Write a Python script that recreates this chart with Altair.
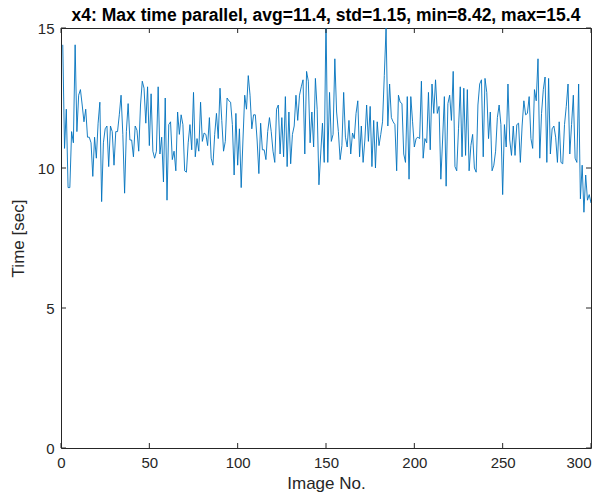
import altair as alt
import pandas as pd

# Time [sec] per image, in order of image number (1..300)
seg1 = [14.4, 10.7, 12.1, 9.3, 9.3, 11.3, 10.9, 14.4, 11.3, 12.6, 12.8, 12.25, 11.65, 12.1,
        11.1, 11.1, 10.9, 9.7, 11.1, 10.35, 11.6, 12.35, 8.8, 10.9]
seg2 = [11.4, 11.5, 10.05, 11.5, 11.3, 10.1, 11.3, 11.3, 11.9, 12.6, 11.2, 9.1, 11.3, 12.3,
        11.0, 11.0, 10.4, 11.5, 11.35, 10.6, 12.25, 13.1, 12.85, 11.6, 12.9, 10.8]
seg3 = [12.65, 10.6, 10.35, 10.6, 12.9, 10.5, 11.1, 9.5, 12.5, 8.85, 11.55, 11.65, 10.3,
        10.6, 9.9, 12.0, 11.2, 11.9, 11.55, 9.9, 9.85, 10.9, 11.55, 10.65, 12.7]
seg4 = [10.4, 11.05, 10.6, 12.35, 10.95, 11.25, 11.2, 10.8, 11.8, 10.35, 10.1, 11.2, 11.95,
        11.05, 12.85, 11.7, 10.6, 10.95, 12.5, 12.4, 12.35, 11.55, 9.75, 11.95, 10.1, 11.4]
seg5 = [9.3, 11.0, 12.6, 12.1, 13.3, 12.6, 11.4, 11.9, 11.9, 11.0, 9.8, 11.6, 10.65, 10.65,
        10.3, 11.3, 11.8, 11.3, 10.6, 10.2, 12.1, 12.25, 10.5, 11.8, 10.4]
seg6 = [12.55, 10.05, 12.0, 10.15, 11.2, 11.5, 12.6, 11.7, 12.6, 12.9, 13.15, 10.5, 13.45,
        13.1, 10.9, 12.0, 10.75, 13.2, 12.1, 9.4, 10.5, 11.6, 10.2, 15.4, 10.2, 12.7]
seg7 = [10.95, 11.2, 13.9, 12.0, 11.3, 10.3, 10.8, 12.7, 11.1, 10.75, 11.7, 10.5, 11.25,
        11.05, 11.95, 12.4, 10.4, 11.5, 10.2, 11.0, 12.25, 10.95, 12.2, 10.05, 11.7]
seg8 = [10.0, 11.65, 10.8, 11.2, 11.65, 13.3, 15.0, 11.5, 13.0, 11.8, 11.65, 11.55, 9.9,
        12.6, 12.35, 12.3, 10.5, 10.2, 12.55, 9.6, 12.55, 11.65, 10.75, 11.05, 11.1, 11.05]
seg9 = [13.1, 10.35, 11.05, 10.9, 12.7, 10.65, 13.0, 11.95, 13.15, 11.95, 12.2, 9.6, 11.0,
        12.55, 9.35, 12.3, 12.6, 11.7, 13.45, 10.05, 9.9, 11.4, 12.9, 10.4, 12.85]
seg10 = [10.45, 12.8, 9.9, 10.8, 11.2, 10.0, 9.85, 12.25, 13.0, 13.15, 10.4, 13.2, 12.7,
         11.05, 12.0, 9.9, 10.1, 10.6, 11.8, 12.25, 11.55, 9.05, 11.55, 10.75, 13.0, 11.0]
seg11 = [10.45, 11.5, 10.45, 11.55, 11.6, 10.2, 11.5, 12.4, 11.9, 11.95, 12.55, 11.05, 10.7,
         12.8, 12.4, 13.9, 10.35, 11.95, 12.8, 13.25, 10.2, 13.2, 10.5, 11.4, 11.5]
seg12 = [11.1, 10.2, 11.65, 10.2, 10.15, 11.55, 12.2, 13.0, 10.5, 11.55, 12.6, 10.35, 10.2,
         13.0, 8.9, 10.1, 8.42, 9.75, 8.85, 9.05, 8.75]

times = seg1 + seg2 + seg3 + seg4 + seg5 + seg6 + seg7 + seg8 + seg9 + seg10 + seg11 + seg12
images = list(range(1, len(times) + 1))

x_ticks = [0, 50, 100, 150, 200, 250, 300]
y_ticks = [0, 5, 10, 15]

title_text = "x4: Max time parallel, avg=11.4, std=1.15, min=8.42, max=15.4"

W, H = 530, 420
FONT = "Liberation Sans"
AX = "#262626"
TL = 5

df = pd.DataFrame({"image": images, "time": times})
xt = pd.DataFrame({"image": x_ticks})
yt = pd.DataFrame({"time": y_ticks})

xs = alt.Scale(domain=[0, 300], nice=False, zero=False)
ys = alt.Scale(domain=[0, 15], nice=False)

x_axis = alt.Axis(title="Image No.", values=x_ticks, format="d", ticks=False,
                  domain=False, grid=False, labelPadding=7, titlePadding=5,
                  labelFlush=False,
                  labelAlign=alt.ExprRef(expr="datum.value == 300 ? 'right' : 'center'"),
                  labelFont=FONT, labelFontSize=15, labelColor=AX,
                  titleFont=FONT, titleFontSize=17, titleFontWeight="normal",
                  titleColor=AX)
y_axis = alt.Axis(title="Time [sec]", values=y_ticks, format="d", ticks=False,
                  domain=False, grid=False, labelPadding=7, titlePadding=10,
                  labelFlush=False,
                  labelFont=FONT, labelFontSize=15, labelColor=AX,
                  titleFont=FONT, titleFontSize=17, titleFontWeight="normal",
                  titleColor=AX)

X = alt.X("image:Q", scale=xs, axis=x_axis)
Y = alt.Y("time:Q", scale=ys, axis=y_axis)

line = alt.Chart(df).mark_line(color="#0072BD", strokeWidth=0.9, clip=True).encode(
    x=X, y=Y)

xb = alt.Chart(xt).mark_rule(color=AX, strokeWidth=1).encode(
    x=X, y=alt.value(H), y2=alt.value(H - TL))
xtop = alt.Chart(xt).mark_rule(color=AX, strokeWidth=1).encode(
    x=X, y=alt.value(0), y2=alt.value(TL))
yl = alt.Chart(yt).mark_rule(color=AX, strokeWidth=1).encode(
    y=Y, x=alt.value(0), x2=alt.value(TL))
yr = alt.Chart(yt).mark_rule(color=AX, strokeWidth=1).encode(
    y=Y, x=alt.value(W), x2=alt.value(W - TL))

chart = alt.layer(line, xb, xtop, yl, yr).properties(
    width=W, height=H,
    title=alt.TitleParams(title_text, font=FONT, fontSize=17.5, fontWeight="bold",
                          color="#000000", anchor="middle", offset=-3),
    autosize=alt.AutoSizeParams(type="none"),
    padding={"left": 53, "top": 20, "right": 8, "bottom": 46},
    background="white",
).configure_view(stroke=AX, strokeWidth=1)

chart.save("out.html", embed_options={"renderer": "svg", "actions": False})
